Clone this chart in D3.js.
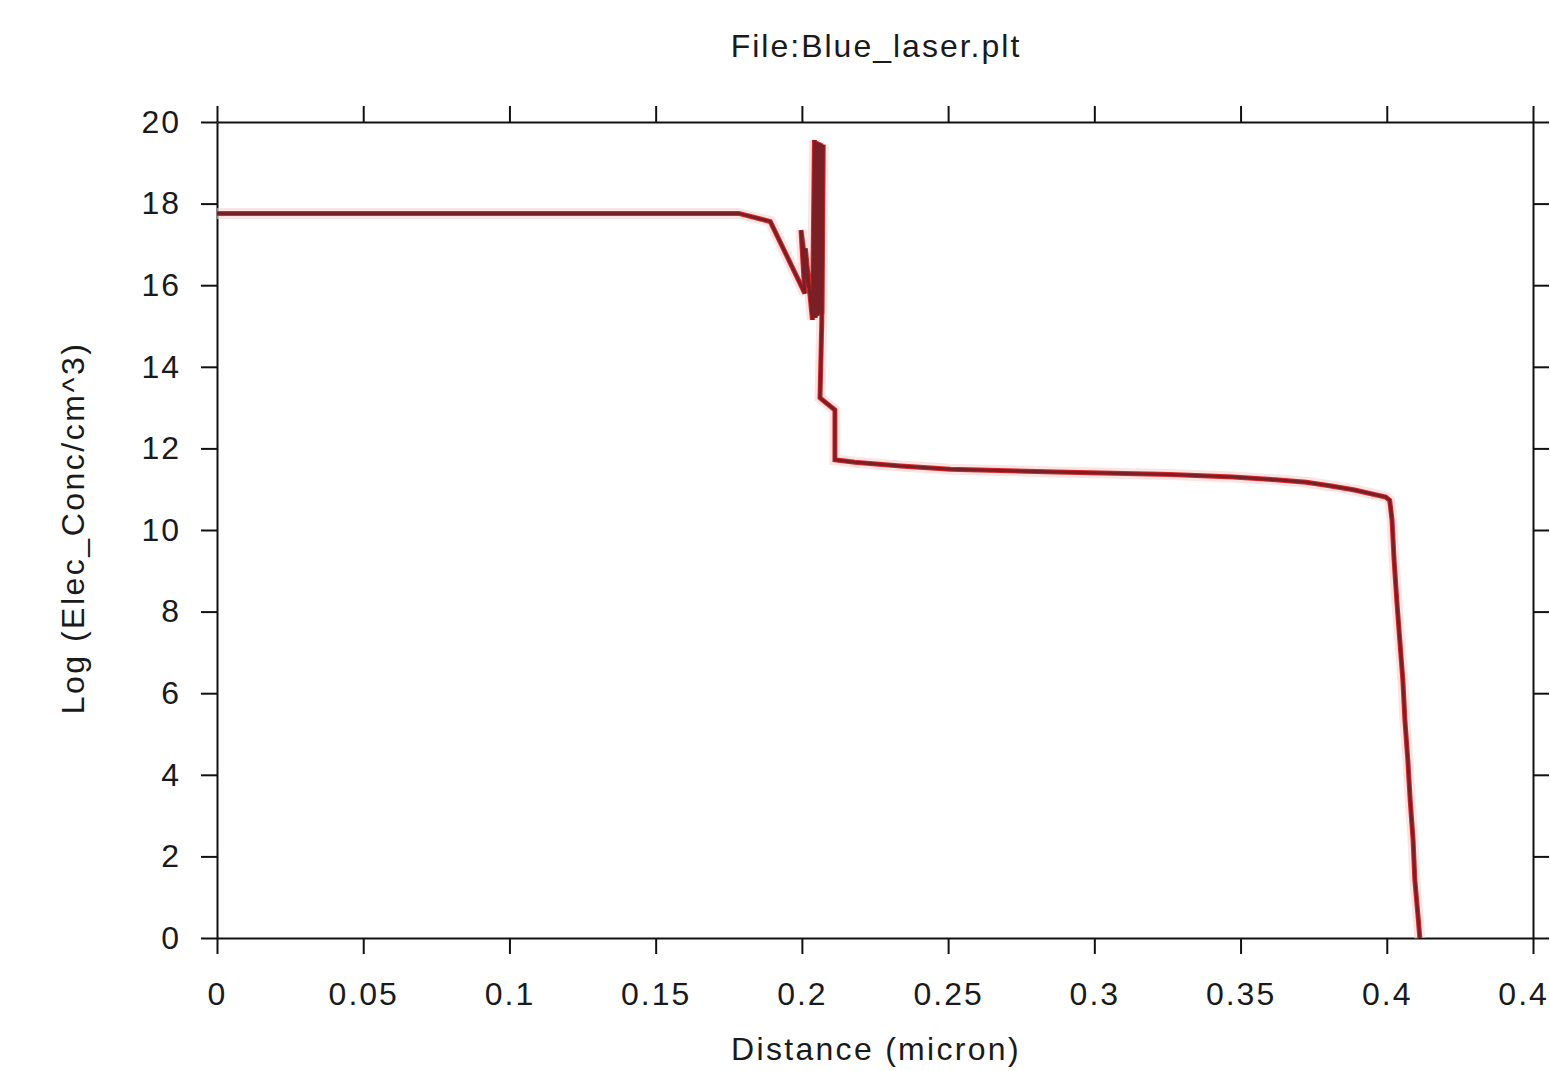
<!DOCTYPE html>
<head>
  <meta charset="utf-8">
  <script src="https://d3js.org/d3.v7.min.js"></script>
  <style>
    body { margin:0; background:#fff; }
    text { font-family: "Liberation Sans", Arial, sans-serif; fill:#1a1a1a; }
    .axis path, .axis line { stroke:#111; stroke-width:2; }
    .axis text { font-size:32px; letter-spacing:2px; }
  </style>
</head>
<body>
<script>

/* Data */
/* ==== */

var distance = [0, 0.05, 0.1, 0.15, 0.1784, 0.1892, 0.1990, 0.2010, 0.1997, 0.2022, 0.2012,
                0.2036, 0.2043, 0.2046, 0.2050, 0.2054, 0.2058, 0.2061, 0.2065, 0.2069, 0.2073,
                0.2068, 0.2062, 0.2113,
                0.2113, 0.2181, 0.2337, 0.2507, 0.287, 0.326, 0.3475, 0.362, 0.3725,
                0.381, 0.389, 0.3996, 0.401, 0.4018, 0.4025, 0.4035, 0.4045, 0.4055,
                0.4062, 0.4072, 0.408, 0.409, 0.4096, 0.4108, 0.4113];

var logConc = [17.76, 17.76, 17.76, 17.76, 17.76, 17.56, 16.1, 15.8, 17.35, 15.95, 16.9,
               15.15, 19.56, 15.2, 19.52, 15.25, 19.5, 15.3, 19.47, 15.3, 19.44,
               15.1, 13.24, 12.94,
               11.72, 11.66, 11.57, 11.49, 11.42, 11.36, 11.3, 11.23, 11.17,
               11.08, 10.98, 10.81, 10.73, 10.24, 9.26, 8.2, 7.25, 6.32,
               5.34, 4.36, 3.38, 2.4, 1.42, 0.44, 0];

var xTicks = [0, 0.05, 0.1, 0.15, 0.2, 0.25, 0.3, 0.35, 0.4, 0.45];
var yTicks = [0, 2, 4, 6, 8, 10, 12, 14, 16, 18, 20];

var title = 'File:Blue_laser.plt',
    xLabel = 'Distance (micron)',
    yLabel = 'Log (Elec_Conc/cm^3)';


/* Set up */
/* ====== */

var width = 1550,
    height = 1071,
    margin = { top: 122, right: 17, bottom: 133, left: 217 },
    plotW = width - margin.left - margin.right,
    plotH = height - margin.top - margin.bottom;

var svg = d3.select('body')
  .append('svg')
    .attr('width', width)
    .attr('height', height);

var g = svg.append('g')
    .attr('transform', 'translate(' + margin.left + ',' + margin.top + ')');

var x = d3.scaleLinear()
    .domain([0, 0.45])
    .range([0, plotW]);

var y = d3.scaleLinear()
    .domain([0, 20])
    .range([plotH, 0]);


// axes on all four sides, outward ticks

var fmtX = function(d) { return d === 0 ? '0' : String(+d.toFixed(2)); };

g.append('g')
    .attr('class', 'axis')
    .attr('transform', 'translate(0,' + plotH + ')')
    .call(d3.axisBottom(x).tickValues(xTicks).tickFormat(fmtX).tickSize(16).tickSizeOuter(0).tickPadding(28));

g.append('g')
    .attr('class', 'axis')
    .call(d3.axisTop(x).tickValues(xTicks).tickFormat('').tickSize(16).tickSizeOuter(0));

g.append('g')
    .attr('class', 'axis')
    .call(d3.axisLeft(y).tickValues(yTicks).tickSize(16).tickSizeOuter(0).tickPadding(20));

g.append('g')
    .attr('class', 'axis')
    .attr('transform', 'translate(' + plotW + ',0)')
    .call(d3.axisRight(y).tickValues(yTicks).tickFormat('').tickSize(16).tickSizeOuter(0));

g.selectAll('.axis text').attr('fill', '#1a1a1a');


// the curve

var pts = distance.map(function(d, i) { return [d, logConc[i]]; });

var line = d3.line()
    .x(function(d) { return x(d[0]); })
    .y(function(d) { return y(d[1]); });

g.append('path')
    .datum(pts)
    .attr('d', line)
    .attr('fill', 'none')
    .attr('stroke', '#f6d3d3')
    .attr('stroke-width', 11)
    .attr('opacity', 0.6);

g.append('path')
    .datum(pts)
    .attr('d', line)
    .attr('fill', 'none')
    .attr('stroke', '#d8262b')
    .attr('stroke-width', 5);

g.append('path')
    .datum(pts)
    .attr('d', line)
    .attr('fill', 'none')
    .attr('stroke', '#7a1f24')
    .attr('stroke-width', 3);


// labels

svg.append('text')
    .attr('x', 876)
    .attr('y', 57)
    .attr('text-anchor', 'middle')
    .style('font-size', '32px')
    .style('letter-spacing', '2px')
    .text(title);

svg.append('text')
    .attr('x', 876)
    .attr('y', 1060)
    .attr('text-anchor', 'middle')
    .style('font-size', '32px')
    .style('letter-spacing', '2.3px')
    .text(xLabel);

svg.append('text')
    .attr('transform', 'translate(84,528) rotate(-90)')
    .attr('text-anchor', 'middle')
    .style('font-size', '32px')
    .style('letter-spacing', '2.5px')
    .text(yLabel);

</script>
</body>
